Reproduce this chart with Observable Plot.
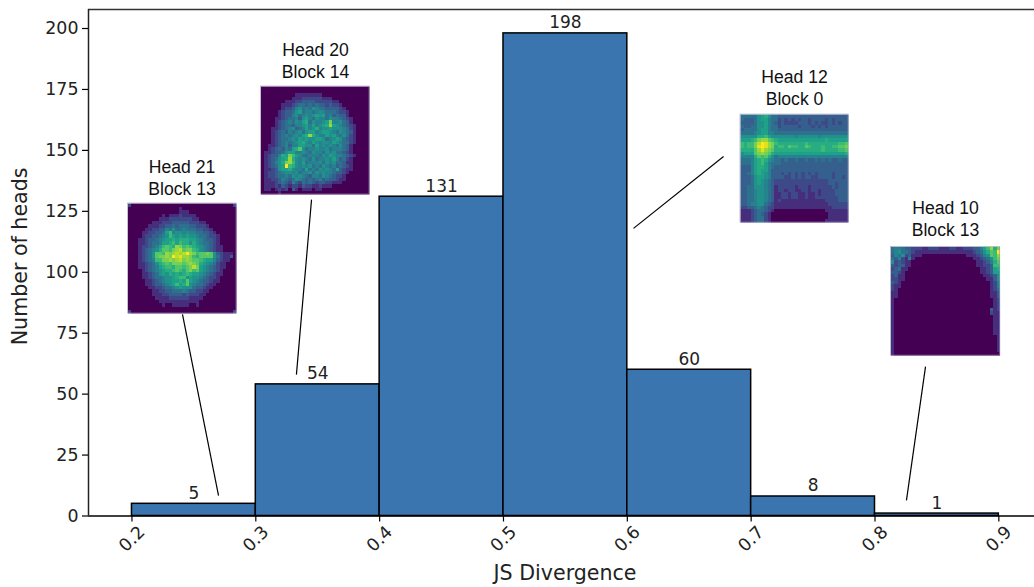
<!DOCTYPE html>
<html><head><meta charset="utf-8">
<style>html,body{margin:0;padding:0;background:#fff}svg{display:block}</style>
<script src="https://cdn.jsdelivr.net/npm/d3@7"></script>
<script src="https://cdn.jsdelivr.net/npm/@observablehq/plot@0.6"></script>
</head><body><div id="c"></div>
<script>
const binStart=[0.2,0.3,0.4,0.5,0.6,0.7,0.8];
const binEnd=[0.3,0.4,0.5,0.6,0.7,0.8,0.9];
const counts=[5,54,131,198,60,8,1];
const xTicks=[0.2,0.3,0.4,0.5,0.6,0.7,0.8,0.9];
const yTicks=[0,25,50,75,100,125,150,175,200];
const insetLabels=["Head 21\nBlock 13","Head 20\nBlock 14","Head 12\nBlock 0","Head 10\nBlock 13"];
const insetLabelX=[0.2404,0.3482,0.735,0.8569];
const insetLabelY=[139.0,187.2,175.9,122.1];
const insetX1=[0.1968,0.3042,0.6914,0.8129];
const insetX2=[0.2844,0.3918,0.7786,0.9010];
const insetY1=[128.2,176.2,164.7,110.4];
const insetY2=[83.1,131.9,120.4,65.8];
const leaderX1=[0.2408,0.3450,0.6777,0.8408];
const leaderY1=[82.7,129.8,147.5,61.3];
const leaderX2=[0.2699,0.3328,0.6050,0.8254];
const leaderY2=[8.4,58,118,6.4];
const head21=[
"20000000000000000000000000000002",
"00000000000000010000000000000000",
"00000000000000011100000000000000",
"00000000001011121111000000000000",
"00000000011122222221100000000000",
"00000001112223333322211000000000",
"00000011122334344433222100000000",
"00000112233546445444332210000000",
"00001122334795665655443321000000",
"00001223345697676766544322100000",
"00011233456778788877654332100000",
"00011234457789798868654432100000",
"00012234579a98cb9a98765432110000",
"0001234568aa9bcdabb9865432110000",
"00012346aa9cbcdcdfcb9aaba6321110",
"00012346abbcbfdeccb98aaaa6421130",
"0001234599bbcbcdbcbaa98775321100",
"00011234689a9bbbabcba87654211000",
"00011234578998aa9abdb76543211000",
"00001234567889a98ab9a76543210000",
"00001123467687878987765432110000",
"00001123445667899676654322100000",
"00000112345667787a76543321100000",
"00000112334567978a65443211000000",
"00000011223445676664332110000000",
"00000001122334445433221100000000",
"00000001112233332322211000000000",
"00000000111122222211110000000000",
"00000000011111111111100000000000",
"00000000001001111100100000000000",
"00000000000000000000000000000000",
"20000000000000000000000000000002"];
const head20=[
"00000000000000000000000000000000",
"00000000000000000000000000000000",
"00000000001111111100000000000000",
"00000000011122222211100000000000",
"00000001112233332222211000000000",
"00000011123443434332322100000000",
"00000012235645465443333210000000",
"00000123346745545654443221000000",
"00000123356456567674534331000000",
"00001123445367546554655432100000",
"00001234546578465567b55643100000",
"00001234435567575678c76543210000",
"00011234563457568566766654210000",
"00012343545646775677654654310000",
"00012345456578c86557675464210000",
"00012344565767667764567643210000",
"00012345456786576566576544210000",
"00112345355776647565654643100000",
"00123435478a64556556455543100000",
"01123346775565465546564432100000",
"01233587b97644555465765543210000",
"01234678c86565464556575342100000",
"0123568bc96574555646564431100000",
"0123467f986565645465453432100000",
"01123677865547454656547321100000",
"01223456656455646565543321000000",
"01223445465654355465432210000000",
"01122354346543434534332110000000",
"01112343253243432332211100000000",
"01112132122132211211100000000000",
"01101212031011101100000000000000",
"00000100000000000000000000000000"];
const head12=[
"44444678644333333333333333333333",
"43334677544232323233233332323333",
"33334667543232222333232322323233",
"43344667544233333233323232333333",
"34444677544333333333333333333333",
"44445677554444444444444444444444",
"66666889766666665666666566666666",
"77789bcca98777777777777778777777",
"9899bdfecb988888888988888888899a",
"9899befecb8998a9988a988898899aab",
"8888acecba888888888888889888899a",
"6777abcba87777777777777777777778",
"55558a9a864555555555555555555555",
"44457898654434334334334343433433",
"44457897544433333333333333333333",
"33357887543333333333333333333333",
"33357877533333333333333333333333",
"33457876533323232323232333323333",
"33346776533332232323322333323323",
"33346765432222222222222222333333",
"33346765432222222222222222332333",
"33446665431222221222122222232333",
"33445665431221221122122122223333",
"33445665431122122112112122223333",
"33445665431122122112112222222333",
"33445665431211111111111112222333",
"33455664321111111111111111222222",
"22334543221111111111111111122222",
"11123443210000000000000001111111",
"11123432100000000000000000111111",
"11123442100000000000000000111111",
"11123442100000000000000001111111"];
const head10=[
"45543322211222111221122233579c8b",
"45644321111111111111111123468a9f",
"35462311100000000000001112356a9c",
"4352151000000000000000001123469b",
"6232110000000000000000000112358a",
"32331100000000000000000001122399",
"23411000000000000000000000112378",
"33210000000000000000000000112377",
"23110000000000000000000000011236",
"22110000000000000000000000001136",
"32100000000000000000000000000125",
"21100000000000000000000000000125",
"21000000000000000000000000000124",
"11000000000000000000000000000113",
"11000000000000000000000000000113",
"10000000000000000000000000000012",
"10000000000000000000000000000012",
"10000000000000000000000000000012",
"10000000000000000000000000000312",
"10000000000000000000000000000211",
"10000000000000000000000000000011",
"10000000000000000000000000000011",
"10000000000000000000000000000011",
"10000000000000000000000000000011",
"10000000000000000000000000000011",
"10000000000000000000000000000011",
"10000000000000000000000000000001",
"10000000000000000000000000000001",
"10000000000000000000000000000001",
"10000000000000000000000000000001",
"10000000000000000000000000000001",
"10000000000000000000000000000000"];
const heatmaps=[head21,head20,head12,head10];
const bins=counts.map((c,i)=>({x1:binStart[i],x2:binEnd[i],c,mid:(binStart[i]+binEnd[i])/2}));
const dj="'DejaVu Sans',sans-serif";
const flat=rows=>rows.flatMap(r=>Array.from(r.padEnd(32,r[r.length-1]).slice(0,32),ch=>parseInt(ch,16)));
const rasters=heatmaps.map((rows,i)=>Plot.raster(flat(rows),{width:32,height:32,x1:insetX1[i],x2:insetX2[i],y1:insetY1[i],y2:insetY2[i],fill:d=>d,imageRendering:"pixelated"}));
const idx=insetLabels.map((_,i)=>i);
const plot=Plot.plot({
  width:1034,height:587,marginLeft:88,marginRight:0,marginTop:9,marginBottom:71.5,
  style:{background:"#fff",overflow:"visible"},
  x:{domain:[0.1649,0.9288],label:null},
  y:{domain:[0,207.8],label:null},
  color:{type:"pow",exponent:0.75,scheme:"viridis",domain:[0,15]},
  marks:[
    Plot.rect(bins,{x1:"x1",x2:"x2",y1:0,y2:"c",fill:"#3a75af",stroke:"#000",strokeWidth:1.5}),
    Plot.ruleY([0],{stroke:"#000",strokeWidth:1.5}),
    Plot.ruleY([207.8],{stroke:"#333",strokeWidth:1.5}),
    Plot.ruleX([0.1649],{stroke:"#222",strokeWidth:1.5}),
    Plot.axisX(xTicks,{tickSize:6,tickRotate:-45,textAnchor:"middle",lineAnchor:"middle",tickPadding:17,fontSize:17.5,fontFamily:dj,label:null,stroke:"#000",strokeWidth:1.2,tickFormat:d=>d.toFixed(1),fill:"#222"}),
    Plot.axisY(yTicks,{tickSize:6,tickPadding:4,fontSize:17.4,fontFamily:dj,label:null,stroke:"#000",strokeWidth:1.2,fill:"#222"}),
    Plot.text(bins,{x:"mid",y:"c",text:d=>String(d.c),dy:-10.5,fontSize:17,fontFamily:dj,fill:"#222"}),
    ...rasters,
    Plot.rect(idx,{x1:i=>insetX1[i],x2:i=>insetX2[i],y1:i=>insetY1[i],y2:i=>insetY2[i],fill:"none",stroke:"#9a90b4",strokeWidth:0.8,strokeOpacity:0.7}),
    Plot.link(idx,{x1:i=>leaderX1[i],y1:i=>leaderY1[i],x2:i=>leaderX2[i],y2:i=>leaderY2[i],stroke:"#000",strokeWidth:1.2}),
    Plot.text(insetLabels,{x:(_,i)=>insetLabelX[i],y:(_,i)=>insetLabelY[i],text:d=>d,fontSize:17.6,fontFamily:"'Liberation Sans',Arial,sans-serif",lineHeight:1.25,fill:"#111"}),
    Plot.text(["JS Divergence"],{x:()=>0.5497,y:()=>0,dy:57,fontSize:20.6,fontFamily:dj,fill:"#222"}),
    Plot.text(["Number of heads"],{frameAnchor:"left",textAnchor:"middle",y:()=>106.5,dx:-68,rotate:-90,fontSize:20.6,fontFamily:dj,fill:"#222"})
  ]
});
document.getElementById("c").appendChild(plot);
</script></body></html>
